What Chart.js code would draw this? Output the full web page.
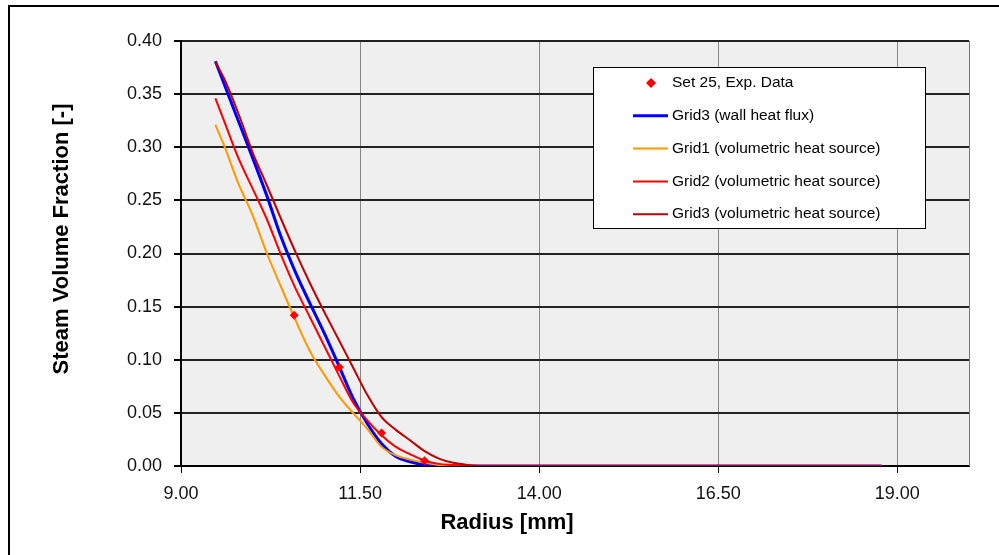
<!DOCTYPE html>
<html>
<head>
<meta charset="utf-8">
<title>Steam Volume Fraction</title>
<script src="https://cdn.jsdelivr.net/npm/chart.js@4.4.0/dist/chart.umd.min.js"></script>
<style>
  html, body { margin: 0; padding: 0; background: #fff; }
  #chart { display: block; }
</style>
</head>
<body>
<canvas id="chart" width="999" height="555"></canvas>
<script>
// Tick labels
const xTicks = [9, 11.5, 14, 16.5, 19];
const yTicks = [0, 0.05, 0.1, 0.15, 0.2, 0.25, 0.3, 0.35, 0.4];

// Set 25, experimental data
const expRadius = [10.58, 11.21, 11.80, 12.40];
const expFraction = [0.142, 0.093, 0.031, 0.005];

// Simulations, all read on the same radius grid [mm]
const simRadius = [9.48, 9.6, 9.8, 10.0, 10.2, 10.4, 10.6, 10.8, 11.0, 11.2, 11.4,
                   11.6, 11.8, 12.0, 12.2, 12.4, 12.6, 12.8, 13.0, 13.2, 18.78];
const grid3Wall = [0.381, 0.360, 0.325, 0.290, 0.254, 0.215, 0.182, 0.153, 0.125, 0.095, 0.064,
                   0.040, 0.021, 0.009, 0.004, 0.001, 0, 0, 0, 0, 0];
const grid1Vol  = [0.321, 0.302, 0.266, 0.236, 0.200, 0.168, 0.137, 0.108, 0.086, 0.066, 0.050,
                   0.035, 0.018, 0.010, 0.006, 0.003, 0.001, 0.0005, 0, 0, 0];
const grid2Vol  = [0.346, 0.325, 0.290, 0.261, 0.232, 0.198, 0.167, 0.140, 0.113, 0.086, 0.060,
                   0.043, 0.029, 0.018, 0.011, 0.005, 0.002, 0.001, 0, 0, 0];
const grid3Vol  = [0.380, 0.365, 0.332, 0.295, 0.264, 0.232, 0.201, 0.172, 0.145, 0.119, 0.093,
                   0.067, 0.046, 0.034, 0.024, 0.014, 0.007, 0.003, 0.001, 0, 0];

function toPoints(xs, ys) {
    return xs.map((x, i) => ({ x: x, y: ys[i] }));
}

function simLine(label, ys, color, width, order) {
    return {
        label: label,
        data: toPoints(simRadius, ys),
        borderColor: color,
        backgroundColor: color,
        borderWidth: width,
        pointRadius: 0,
        cubicInterpolationMode: 'monotone',
        fill: false,
        order: order
    };
}

const fontName = '"Liberation Sans", Arial, sans-serif';

// white page, grey plot area, frame lines
const backgroundPlugin = {
    id: 'background',
    beforeDraw(chart) {
        const { ctx, chartArea: a } = chart;
        ctx.save();
        ctx.fillStyle = '#fff';
        ctx.fillRect(0, 0, chart.width, chart.height);
        ctx.fillStyle = '#efefef';
        ctx.fillRect(a.left, a.top, a.right - a.left, a.bottom - a.top);
        ctx.restore();
    },
    afterDraw(chart) {
        const { ctx, chartArea: a } = chart;
        ctx.save();
        ctx.strokeStyle = '#777';
        ctx.lineWidth = 1;
        ctx.beginPath();
        ctx.moveTo(a.right + 0.5, a.top);
        ctx.lineTo(a.right + 0.5, a.bottom);
        ctx.stroke();
        ctx.fillStyle = '#000';
        ctx.fillRect(8, 5, 2, chart.height - 5);
        ctx.fillRect(8, 5, chart.width - 8, 2);
        ctx.restore();
    }
};

// axis titles, placed like the original
const titlePlugin = {
    id: 'titles',
    afterDraw(chart) {
        const ctx = chart.ctx;
        ctx.save();
        ctx.fillStyle = '#000';
        ctx.font = 'bold 22px ' + fontName;
        ctx.textAlign = 'center';
        ctx.textBaseline = 'middle';
        ctx.fillText('Radius [mm]', 507, 523);
        ctx.translate(62, 239);
        ctx.rotate(-Math.PI / 2);
        ctx.fillText('Steam Volume Fraction [-]', 0, 0);
        ctx.restore();
    }
};

// boxed legend inside the plot
const boxLegendPlugin = {
    id: 'boxLegend',
    afterDraw(chart) {
        const ctx = chart.ctx;
        const box = { left: 593, top: 67, width: 332, height: 161 };
        ctx.save();
        ctx.fillStyle = '#fff';
        ctx.fillRect(box.left, box.top, box.width, box.height);
        ctx.strokeStyle = '#000';
        ctx.lineWidth = 1;
        ctx.strokeRect(box.left + 0.5, box.top + 0.5, box.width, box.height);
        ctx.font = '15.5px ' + fontName;
        ctx.textBaseline = 'middle';
        ctx.textAlign = 'left';
        chart.data.datasets.forEach((ds, i) => {
            const y = box.top + 16 + i * 32.8;
            if (ds.showLine === false) {
                ctx.fillStyle = ds.backgroundColor;
                ctx.beginPath();
                ctx.moveTo(651, y - 5);
                ctx.lineTo(656, y);
                ctx.lineTo(651, y + 5);
                ctx.lineTo(646, y);
                ctx.closePath();
                ctx.fill();
            } else {
                ctx.strokeStyle = ds.borderColor;
                ctx.lineWidth = ds.borderWidth;
                ctx.beginPath();
                ctx.moveTo(633, y);
                ctx.lineTo(668, y);
                ctx.stroke();
            }
            ctx.fillStyle = '#000';
            ctx.fillText(ds.label, 672, y);
        });
        ctx.restore();
    }
};

const data = {
    datasets: [
        {
            label: 'Set 25, Exp. Data',
            data: toPoints(expRadius, expFraction),
            showLine: false,
            pointStyle: 'rectRot',
            pointRadius: 4.5,
            borderWidth: 0,
            backgroundColor: '#ff0000',
            borderColor: '#ff0000',
            order: 0
        },
        simLine('Grid3 (wall heat flux)', grid3Wall, '#0000ff', 3, 4),
        simLine('Grid1 (volumetric heat source)', grid1Vol, '#ff9900', 2, 3),
        simLine('Grid2 (volumetric heat source)', grid2Vol, '#ff0000', 2, 2),
        simLine('Grid3 (volumetric heat source)', grid3Vol, '#c00000', 2, 1)
    ]
};

const config = {
    type: 'line',
    data: data,
    options: {
        responsive: false,
        animation: false,
        devicePixelRatio: 1,
        layout: { padding: { left: 0, top: 41, right: 30, bottom: 0 } },
        plugins: {
            legend: { display: false },
            tooltip: { enabled: false }
        },
        scales: {
            x: {
                type: 'linear',
                min: 9,
                max: 20,
                afterBuildTicks: (scale) => { scale.ticks = xTicks.map(v => ({ value: v })); },
                afterFit: (scale) => { scale.height = 89; },
                ticks: {
                    padding: 10,
                    color: '#111',
                    font: { family: fontName, size: 18 },
                    callback: (v) => v.toFixed(2)
                },
                grid: { color: '#888', lineWidth: 1, tickColor: '#000', tickLength: 7 },
                border: { color: '#000', width: 2 }
            },
            y: {
                min: 0,
                max: 0.4,
                afterBuildTicks: (scale) => { scale.ticks = yTicks.map(v => ({ value: v })); },
                afterFit: (scale) => { scale.width = 181; },
                ticks: {
                    padding: 12,
                    color: '#111',
                    font: { family: fontName, size: 18 },
                    callback: (v) => v.toFixed(2)
                },
                grid: { color: '#222', lineWidth: 2, tickColor: '#000', tickLength: 7 },
                border: { color: '#000', width: 2 }
            }
        }
    },
    plugins: [backgroundPlugin, titlePlugin, boxLegendPlugin]
};

const ctx = document.getElementById('chart').getContext('2d');
const steamChart = new Chart(ctx, config);
</script>
</body>
</html>
